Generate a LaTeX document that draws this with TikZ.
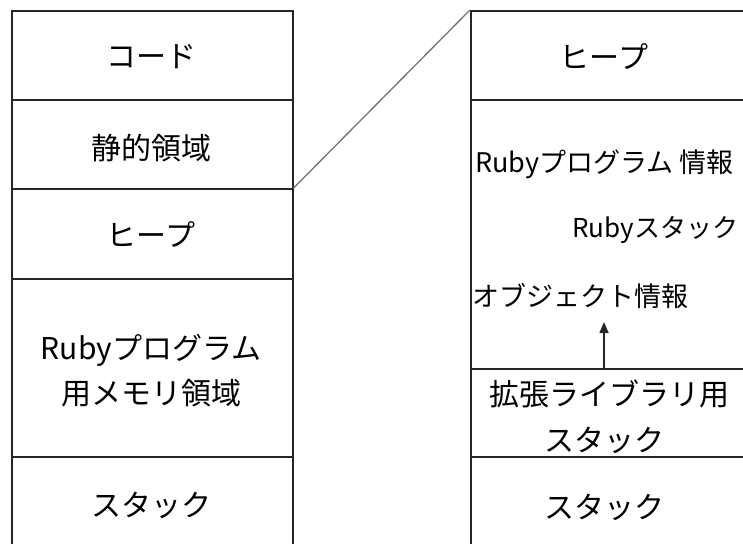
\documentclass[tikz,border=0pt]{standalone}
\usepackage{fontspec}
\setmainfont{Noto Sans CJK JP}
\usetikzlibrary{arrows.meta}
\tikzset{
  cell/.style={draw=black!85, line width=1.6pt, rectangle, inner sep=0pt, anchor=north west},
  big/.style={font=\fontsize{30}{36}\selectfont, inner sep=0pt},
  small/.style={font=\fontsize{27}{32}\selectfont, inner sep=0pt},
  smaller/.style={font=\fontsize{26}{31}\selectfont, inner sep=0pt},
  link/.style={draw=black!55, line width=1.3pt},
  uparrow/.style={draw=black!85, line width=1.5pt, -{Triangle[length=11pt,width=9pt]}}
}
\begin{document}
\begin{tikzpicture}[x=1pt,y=-1pt]
\useasboundingbox (0,0) rectangle (743,543);
\begin{scope}
\clip (0,0) rectangle (743,543);
% left column
\node[cell, minimum width=281pt, minimum height=89pt] (code) at (11,10) {};
\node[cell, minimum width=281pt, minimum height=89pt] (static) at (11,99) {};
\node[cell, minimum width=281pt, minimum height=90pt] (heap) at (11,188) {};
\node[cell, minimum width=281pt, minimum height=178pt] (rmem) at (11,278) {};
\node[cell, minimum width=281pt, minimum height=120pt] (stack) at (11,456) {};
% right column
\node[cell, minimum width=300pt, minimum height=89pt] (rheap) at (470,10) {};
\node[cell, minimum width=300pt, minimum height=269pt] (rinfo) at (470,99) {};
\node[cell, minimum width=300pt, minimum height=88pt] (ext) at (470,368) {};
\node[cell, minimum width=300pt, minimum height=120pt] (rstack) at (470,456) {};
% labels left
\node[big] (tcode) at (151,57) {コード};
\node[big] (tstatic) at (151,148) {静的領域};
\node[big] (theap) at (151,235) {ヒープ};
\node[big] (trmem1) at (151,350) {Rubyプログラム};
\node[big] (trmem2) at (151,393) {用メモリ領域};
\node[big] (tstack) at (151,505) {スタック};
% labels right
\node[big] (trheap) at (604,57) {ヒープ};
\node[small, anchor=west] (tprog) at (475,164) {Rubyプログラム 情報};
\node[smaller, anchor=west] (trstk) at (572,230) {Rubyスタック};
\node[small, anchor=west] (tobj) at (472,296) {オブジェクト情報};
\node[big] (text1) at (609,394) {拡張ライブラリ用};
\node[big] (text2) at (604,440) {スタック};
\node[big] (trstack) at (604,507) {スタック};
% connectors
\draw[link] (heap.north east) -- (rheap.north west);
\coordinate (abase) at (604,368);
\coordinate (atip) at (604,322);
\draw[uparrow] (abase) -- (atip);
\end{scope}
\end{tikzpicture}
\end{document}
